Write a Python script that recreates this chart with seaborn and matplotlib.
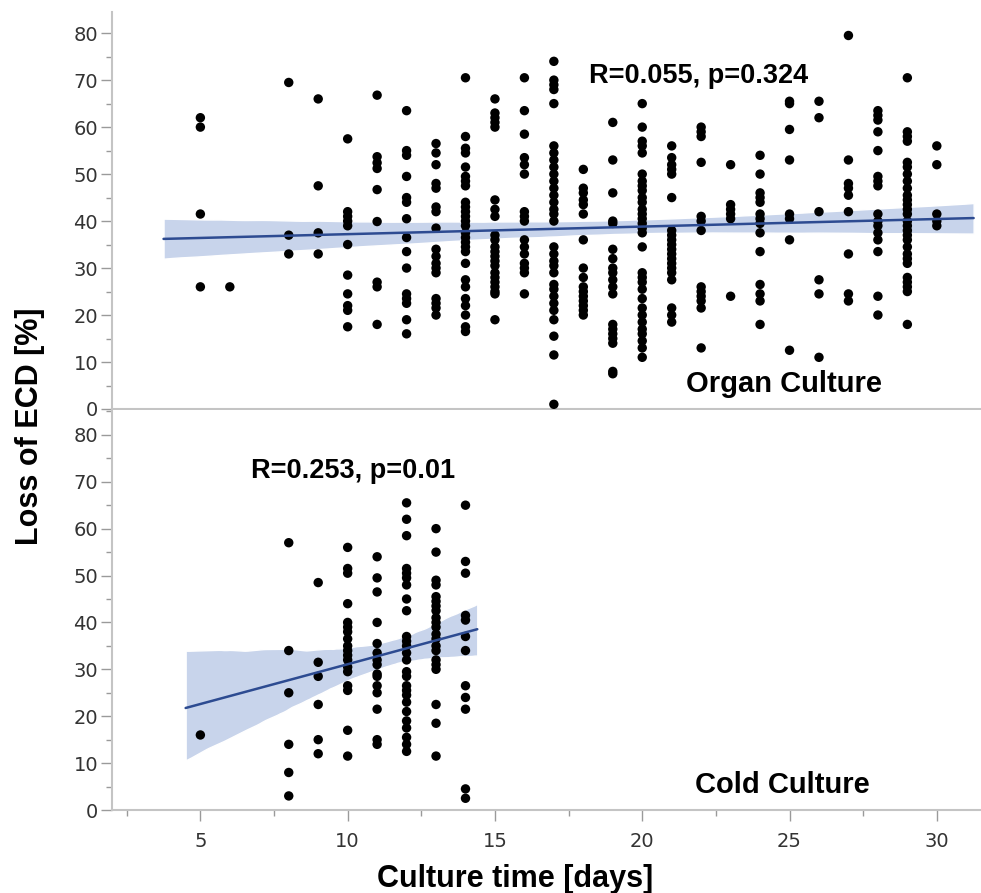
import numpy as np
import pandas as pd
import matplotlib
matplotlib.use("Agg")
import matplotlib.pyplot as plt
from matplotlib.ticker import MultipleLocator
from matplotlib.collections import PolyCollection
import seaborn as sns

# ---------------- data ----------------
organ_days = [5, 6, 8, 9, 10, 11, 12, 13, 14, 15, 16, 17, 18, 19, 20,
              21, 22, 23, 24, 25, 26, 27, 28, 29, 30]
organ_loss = [
    [62, 60, 41.5, 26],
    [26],
    [69.5, 37, 33],
    [66, 47.5, 37.5, 33],
    [57.5, 42, 41, 40, 39, 35, 28.5, 24.5, 22, 21, 17.5],
    [66.8, 53.7, 52.4, 51.2, 46.7, 39.9, 27, 26, 18],
    [63.5, 55, 54, 49.5, 45, 44, 40.5, 36.5, 33.5, 30, 24.5, 23.5, 22.5, 19, 16],
    [56.5, 54.5, 52, 48, 47, 43, 42, 38.5, 34, 32.5, 31, 30, 29, 23.5, 22.5, 21.5, 20],
    [70.5, 58, 55.5, 54.5, 51.5, 49.5, 48.5, 47.5, 44, 43, 42, 41, 40, 39, 37.5,
     36.5, 35.5, 34.5, 33.5, 31, 27.5, 26, 23.5, 22, 20, 17.5, 16.5],
    [66, 63, 62, 61, 60, 44.5, 42.5, 41, 37, 36, 34.5, 33.5, 32.5, 31.5, 30.5,
     29, 28, 27, 26, 25, 24.5, 19],
    [70.5, 63.5, 58.5, 53.5, 52, 50, 42, 41, 40, 36, 34.5, 33, 31, 30, 29, 24.5],
    [74, 70, 69, 68, 65, 56, 54.5, 53, 51.5, 50, 48.5, 47, 45.5, 44, 42.5, 41.5,
     40, 34.5, 33, 31.5, 30.5, 29, 26.5, 25.5, 24, 22.5, 21, 19, 15.5, 11.5, 1],
    [51, 47, 46, 44.5, 43.5, 41.5, 36, 30, 28, 26, 25, 24, 23, 22, 21, 20],
    [61, 53, 46, 40, 39.5, 34, 32, 30, 29, 27.5, 26, 24.5, 18, 17, 16, 15, 14, 8, 7.5],
    [65, 60, 57, 56, 54.5, 50, 48.5, 47.5, 46.5, 45, 44, 42.5, 41.5, 40.5, 39.5,
     38.5, 37.5, 34.5, 29, 28, 27, 25.5, 23.5, 21.5, 20, 18.5, 17, 16, 14.5, 13, 11],
    [56, 53.5, 52, 51, 50, 45, 38, 37, 36, 35, 34, 33, 32, 31, 30, 29, 27.5,
     21.5, 20, 18.5],
    [60, 59, 58, 52.5, 41, 40, 38, 26, 25, 24, 23, 21.5, 13],
    [52, 43.5, 42.5, 41.5, 40.5, 24],
    [54, 50, 46, 45, 44, 41.5, 40.5, 39.5, 37.5, 33.5, 26.5, 24.5, 23, 18],
    [65.5, 65, 59.5, 53, 41.5, 40.5, 36, 12.5],
    [65.5, 62, 42, 27.5, 24.5, 11],
    [79.5, 53, 48, 47, 45.5, 42, 33, 24.5, 23],
    [63.5, 62.5, 61.5, 59, 55, 49.5, 48.5, 47.5, 41.5, 40, 39, 37.5, 36, 33.5, 24, 20],
    [70.5, 59, 58, 57, 52.5, 51.5, 50, 48.5, 47, 45.5, 44.5, 43.5, 42.5, 41.5,
     40, 39, 38, 37, 36, 34.5, 33, 32, 31, 28, 27, 26, 25, 18],
    [56, 52, 41.5, 40, 39],
]

cold_days = [5, 8, 9, 10, 11, 12, 13, 14]
cold_loss = [
    [16],
    [57, 34, 25, 14, 8, 3],
    [48.5, 31.5, 28.5, 22.5, 15, 12],
    [56, 51.5, 50.5, 44, 40, 39, 38, 36.5, 35, 34, 33, 32, 30.5, 29.5, 26.5, 25.5, 17, 11.5],
    [54, 49.5, 46.5, 40, 35.5, 33.5, 32, 31, 29, 28.5, 26.5, 25, 21.5, 15, 14],
    [65.5, 62, 58.5, 51.5, 50.5, 49.5, 48, 45, 42.5, 37, 36, 35, 33.5, 32, 29.5,
     28.5, 26.5, 25.5, 24.5, 23, 21, 19, 17.5, 15.5, 14, 12.5],
    [60, 55, 49, 48, 45.5, 44.5, 43.5, 42.5, 41, 40, 39, 37.5, 36.5, 35, 34, 32,
     31, 30, 22.5, 18.5, 11.5],
    [65, 53, 50.5, 41.5, 40.5, 37, 34, 26.5, 24, 21.5, 4.5, 2.5],
]

organ_label = "R=0.055, p=0.324"
cold_label = "R=0.253, p=0.01"
organ_title = "Organ Culture"
cold_title = "Cold Culture"
x_title = "Culture time [days]"
y_title = "Loss of ECD [%]"
x_ticks = [5, 10, 15, 20, 25, 30]
y_ticks = [0, 10, 20, 30, 40, 50, 60, 70, 80]


def to_frame(days, losses):
    rows = [(d, v) for d, vals in zip(days, losses) for v in vals]
    return pd.DataFrame(rows, columns=["days", "loss"])


organ_df = to_frame(organ_days, organ_loss)
cold_df = to_frame(cold_days, cold_loss)

# ---------------- styling ----------------
sns.set_theme(style="white")
plt.rcParams["font.family"] = ["DejaVu Sans"]

LINE = "#2d4b91"
BAND = "#c8d4eb"
SPINE = "#c4c4c4"
TICKC = "#9a9a9a"
LABC = "#333333"

W, H = 981, 893
fig = plt.figure(figsize=(W / 100, H / 100), dpi=100)
left = 112 / W
width = (981 - 112) / W
ax_top = fig.add_axes([left, 1 - 409 / H, width, (409 - 12) / H])
ax_bot = fig.add_axes([left, 1 - 810 / H, width, (810 - 410) / H])


def draw(ax, df, xr, seed):
    ax.set_xlim(*xr)  # range over which the fit line / band is drawn
    sns.regplot(data=df, x="days", y="loss", ax=ax, ci=95, n_boot=1000, seed=seed,
                truncate=False, color=LINE,
                scatter_kws=dict(s=46, color="black", alpha=1.0, edgecolor="none",
                                 zorder=3, clip_on=False),
                line_kws=dict(color=LINE, lw=1.8, zorder=4))
    for c in ax.collections:
        if isinstance(c, PolyCollection):
            c.set_facecolor(BAND)
            c.set_alpha(1.0)
            c.set_zorder(2)


draw(ax_top, organ_df, (3.75, 31.25), 1)
draw(ax_bot, cold_df, (4.5, 14.4), 2)

for ax, ymax in ((ax_top, 84.5), (ax_bot, 85.3)):
    ax.set_xlim(2.0, 31.5)
    ax.set_ylim(0, ymax)
    ax.set_xlabel("")
    ax.set_ylabel("")
    for s in ("top", "right"):
        ax.spines[s].set_visible(False)
    for s in ("left", "bottom"):
        ax.spines[s].set_color(SPINE)
        ax.spines[s].set_linewidth(1.5)
    ax.set_yticks(y_ticks)
    ax.yaxis.set_minor_locator(MultipleLocator(5))
    ax.tick_params(axis="y", which="major", length=8, width=1.0, color=TICKC,
                   labelsize=14, labelcolor=LABC, pad=2, left=True)
    ax.tick_params(axis="y", which="minor", length=4, width=1.0, color=TICKC, left=True)

ax_top.tick_params(axis="x", which="both", bottom=False, labelbottom=False)
ax_bot.set_xticks(x_ticks)
ax_bot.xaxis.set_minor_locator(MultipleLocator(2.5))
ax_bot.tick_params(axis="x", which="major", length=8, width=1.0, color=TICKC,
                   labelsize=14, labelcolor=LABC, pad=8, bottom=True)
ax_bot.tick_params(axis="x", which="minor", length=4, width=1.0, color=TICKC, bottom=True)

bold = dict(family=["Liberation Sans", "DejaVu Sans"], weight="bold", color="black")
ax_top.text(21.9, 70.9, organ_label, ha="center", va="center", fontsize=19.5, **bold)
ax_top.text(24.8, 3.6, organ_title, ha="center", va="baseline", fontsize=21, **bold)
ax_bot.text(10.18, 72.3, cold_label, ha="center", va="center", fontsize=19.5, **bold)
ax_bot.text(24.75, 3.6, cold_title, ha="center", va="baseline", fontsize=21, **bold)

fig.text(515 / W, 1 - 887 / H, x_title, ha="center", va="baseline", fontsize=22, **bold)
fig.text(30 / W, 1 - 426 / H, y_title, ha="center", va="center", rotation=90,
         fontsize=22, **bold)

fig.savefig("out.png", dpi=100)
